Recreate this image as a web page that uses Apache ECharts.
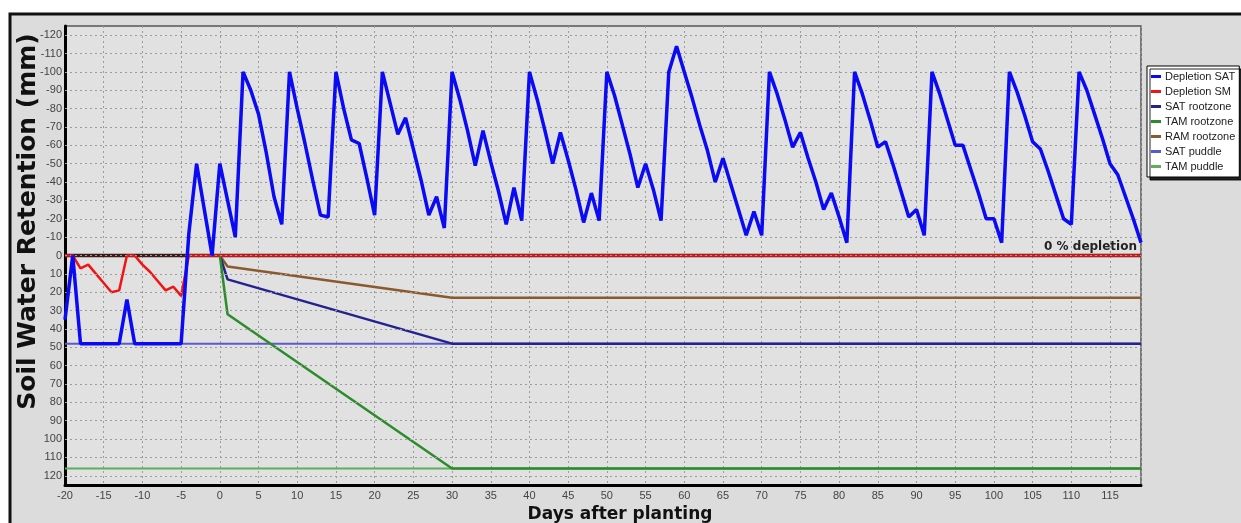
<!DOCTYPE html>
<html>
<head>
<meta charset="utf-8">
<script src="https://cdn.jsdelivr.net/npm/echarts@6/dist/echarts.min.js"></script>
<style>
  html, body { margin: 0; padding: 0; background: #fff; }
  #main { width: 1241px; height: 523px; }
</style>
</head>
<body>
<div id="main"></div>
<script>
// Depletion SAT, one value per day starting at day -20 (mm, negative = above 0 line)
var startDay = -20;
var satDepletion = [
    35, 0, 48, 48, 48, 48, 48, 48, 24, 48,
    48, 48, 48, 48, 48, 48, -12, -50, -25, 0,
    -50, -30, -10, -100, -90, -77, -56, -32, -17, -100,
    -80, -61, -41, -22, -21, -100, -80, -63, -61, -42,
    -22, -100, -83, -66, -75, -58, -41, -22, -32, -15,
    -100, -85, -68, -49, -68, -51, -35, -17, -37, -19,
    -100, -85, -68, -50, -67, -52, -36, -18, -34, -19,
    -100, -87, -71, -55, -37, -50, -36, -19, -100, -114,
    -100, -86, -71, -57, -40, -53, -39, -25, -11, -24,
    -11, -100, -88, -74, -59, -67, -53, -40, -25, -34,
    -21, -7, -100, -88, -74, -59, -62, -49, -35, -21,
    -25, -11, -100, -88, -74, -60, -60, -47, -34, -20,
    -20, -7, -100, -89, -76, -62, -58, -46, -33, -20,
    -17, -100, -90, -77, -64, -50, -44, -32, -20, -7
];

// Depletion SM
var smDays = [-20, -19, -18, -17, -16, -15, -14, -13, -12, -11, -10, -9, -8, -7, -6, -5, -4, 119];
var smDepletion = [0, 0, 7, 5, 10, 15, 20, 19, 0, 0, 5, 9, 14, 19, 17, 22, 0, 0];

// rootzone lines
var rootDays = [0, 1, 30, 119];
var satRootzone = [0, 13, 48, 48];
var tamRootzone = [0, 32, 116, 116];
var ramRootzone = [0, 6, 23, 23];

// puddle lines and 0 % depletion line
var flatDays = [-20, 119];
var satPuddle = [48, 48];
var tamPuddle = [116, 116];
var zeroLine = [0, 0];

// horizontal grid lines / y tick labels
var yGrid = [-120, -110, -100, -90, -80, -70, -60, -50, -40, -30, -20, -10, 0,
    10, 20, 30, 40, 50, 60, 70, 80, 90, 100, 110, 120];

var legendNames = ['Depletion SAT', 'Depletion SM', 'SAT rootzone', 'TAM rootzone', 'RAM rootzone', 'SAT puddle', 'TAM puddle'];

function pairs(xs, ys) {
    var out = [];
    for (var i = 0; i < ys.length; i++) out.push([xs[i], ys[i]]);
    return out;
}
var satDays = [];
for (var i = 0; i < satDepletion.length; i++) satDays.push(startDay + i);

var myChart = echarts.init(document.getElementById('main'));
var gridColor = '#9c9c9c';
var labelFont = 'Liberation Sans, Arial, sans-serif';

var option = {
    backgroundColor: '#fff',
    animation: false,
    graphic: [{
        type: 'rect',
        shape: {x: 10, y: 14, width: 1240, height: 520},
        style: {fill: '#dcdcdc', stroke: '#111', lineWidth: 3},
        z: -10
    }],
    grid: {
        left: 65, top: 26, width: 1076, height: 459,
        outerBoundsMode: 'none',
        containLabel: false,
        show: true,
        backgroundColor: '#e1e1e1',
        borderColor: '#555',
        borderWidth: 1.5
    },
    legend: {
        data: legendNames,
        orient: 'vertical',
        left: 1147, top: 66,
        backgroundColor: '#fff',
        borderColor: '#000',
        borderWidth: 1,
        shadowColor: 'rgba(0,0,0,0.85)',
        shadowBlur: 0,
        shadowOffsetX: 3,
        shadowOffsetY: 3,
        padding: [4, 4, 4, 4],
        itemGap: 2,
        itemWidth: 10,
        itemHeight: 3,
        icon: 'rect',
        textStyle: {fontSize: 11, fontFamily: labelFont, color: '#222', lineHeight: 13, padding: [0, 0, 0, -1]}
    },
    xAxis: {
        type: 'value',
        min: -20, max: 119, interval: 5,
        name: 'Days after planting',
        nameLocation: 'middle',
        nameGap: 2,
        nameTextStyle: {fontSize: 17, fontWeight: 'bold', fontFamily: 'DejaVu Sans', color: '#111', padding: [0, 0, 0, 34]},
        axisLine: {onZero: false, lineStyle: {color: '#000', width: 3}},
        axisTick: {show: false},
        axisLabel: {
            margin: 5, fontSize: 11, fontFamily: labelFont, color: '#444',
            formatter: function (v) { return v % 5 === 0 ? String(v) : ''; }
        },
        splitLine: {show: true, lineStyle: {color: gridColor, type: [2, 3], width: 1}}
    },
    yAxis: {
        type: 'value',
        inverse: true,
        min: -125, max: 125, interval: 5,
        name: 'Soil Water Retention (mm)',
        nameLocation: 'middle',
        nameRotate: 90,
        nameGap: 24,
        nameMoveOverlap: false,
        nameTextStyle: {fontSize: 25, fontWeight: 'bold', fontFamily: 'DejaVu Sans', color: '#111', padding: [0, 0, 0, 68]},
        axisLine: {show: true, onZero: false, lineStyle: {color: '#000', width: 3}},
        axisTick: {show: false},
        axisLabel: {
            margin: 3, fontSize: 11, fontFamily: labelFont, color: '#444',
            formatter: function (v) { return yGrid.indexOf(v) >= 0 ? String(v) : ''; }
        },
        splitLine: {show: false}
    },
    series: [{
        name: 'grid', type: 'line', showSymbol: false, z: 1, silent: true,
        data: [],
        markLine: {
            silent: true, symbol: 'none', animation: false,
            label: {show: false},
            lineStyle: {color: gridColor, type: [2, 3], width: 1},
            data: yGrid.map(function (v) { return {yAxis: v}; })
        }
    }, {
        name: 'TAM puddle', type: 'line', showSymbol: false, z: 2,
        data: pairs(flatDays, tamPuddle),
        lineStyle: {color: '#5fae5f', width: 2}, itemStyle: {color: '#5fae5f'}
    }, {
        name: 'SAT puddle', type: 'line', showSymbol: false, z: 2,
        data: pairs(flatDays, satPuddle),
        lineStyle: {color: '#5a5ad0', width: 2}, itemStyle: {color: '#5a5ad0'}
    }, {
        name: 'zero', type: 'line', showSymbol: false, z: 2,
        data: pairs(flatDays, zeroLine),
        lineStyle: {color: '#3f1a1a', width: 3.5},
        markLine: {
            silent: true, symbol: 'none',
            lineStyle: {color: 'rgba(0,0,0,0)', width: 1},
            label: {
                show: true,
                formatter: '0 % depletion', position: 'insideEndTop', distance: [4, 3],
                fontSize: 12, fontWeight: 'bold', fontFamily: 'DejaVu Sans', color: '#222'
            },
            data: [{yAxis: 0}]
        }
    }, {
        name: 'RAM rootzone', type: 'line', showSymbol: false, z: 3,
        data: pairs(rootDays, ramRootzone),
        lineStyle: {color: '#8a5a2e', width: 2.5}, itemStyle: {color: '#8a5a2e'}
    }, {
        name: 'SAT rootzone', type: 'line', showSymbol: false, z: 3,
        data: pairs(rootDays, satRootzone),
        lineStyle: {color: '#23238f', width: 2.5}, itemStyle: {color: '#23238f'}
    }, {
        name: 'TAM rootzone', type: 'line', showSymbol: false, z: 3,
        data: pairs(rootDays, tamRootzone),
        lineStyle: {color: '#2c8c2c', width: 2.5}, itemStyle: {color: '#2c8c2c'}
    }, {
        name: 'Depletion SM', type: 'line', showSymbol: false, z: 4,
        data: pairs(smDays, smDepletion),
        lineStyle: {color: '#f01414', width: 2.5}, itemStyle: {color: '#f01414'}
    }, {
        name: 'Depletion SAT', type: 'line', showSymbol: false, z: 5,
        data: pairs(satDays, satDepletion),
        lineStyle: {color: '#0a0af5', width: 3.5}, itemStyle: {color: '#0a0af5'}
    }]
};

myChart.setOption(option);
</script>
</body>
</html>
